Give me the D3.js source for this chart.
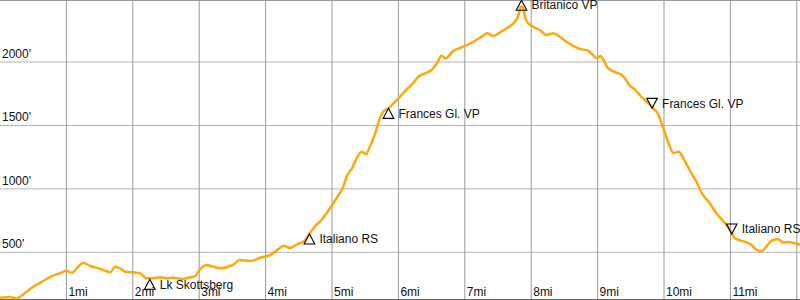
<!DOCTYPE html>
<html>
<head>
<meta charset="utf-8">
<script src="https://cdn.jsdelivr.net/npm/d3@7"></script>
<style>
  html, body { margin: 0; padding: 0; background: #fff; }
  svg { display: block; font-family: "Liberation Sans", Arial, sans-serif; }
</style>
</head>
<body>
<svg id="chart" width="800" height="300"></svg>
<script>
// Track: distance (miles) and elevation (feet)
const distances = [0, 0.15, 0.25, 0.30, 0.50, 0.65, 0.78, 0.90, 1.00, 1.08, 1.18, 1.25, 1.36, 1.48, 1.56, 1.66, 1.73, 1.81, 1.88, 2.01,
  2.11, 2.21, 2.31, 2.41, 2.51, 2.61, 2.74, 2.84, 2.94, 3.01, 3.11, 3.21, 3.31, 3.51, 3.61, 3.77, 3.92, 4.09, 4.22, 4.27,
  4.37, 4.47, 4.57, 4.67, 4.74, 4.84, 4.97, 5.07, 5.17, 5.22, 5.30, 5.37, 5.45, 5.51, 5.57, 5.65, 5.72, 5.77, 5.85, 5.95,
  6.02, 6.13, 6.22, 6.30, 6.40, 6.50, 6.58, 6.65, 6.71, 6.83, 6.98, 7.13, 7.25, 7.34, 7.43, 7.53, 7.63, 7.73, 7.81, 7.84,
  7.87, 7.92, 8.01, 8.13, 8.23, 8.33, 8.43, 8.53, 8.63, 8.76, 8.86, 8.93, 8.99, 9.04, 9.09, 9.14, 9.24, 9.34, 9.41, 9.49,
  9.56, 9.64, 9.74, 9.84, 9.91, 9.99, 10.06, 10.14, 10.22, 10.29, 10.39, 10.49, 10.57, 10.69, 10.79, 10.92, 10.99, 11.07, 11.19, 11.30,
  11.40, 11.47, 11.55, 11.62, 11.72, 11.80, 11.87, 11.97, 12.05];
const elevations = [142, 148, 136, 150, 229, 274, 313, 334, 355, 339, 387, 418, 392, 374, 360, 342, 387, 374, 347, 342,
  334, 295, 295, 303, 295, 300, 290, 300, 313, 364, 400, 387, 374, 400, 439, 431, 457, 484, 536, 552,
  534, 563, 584, 655, 702, 755, 847, 928, 1017, 1096, 1162, 1241, 1293, 1275, 1332, 1438, 1556, 1608, 1635, 1687,
  1724, 1787, 1832, 1884, 1911, 1937, 1990, 2050, 2029, 2089, 2121, 2160, 2199, 2226, 2205, 2234, 2266, 2305, 2370, 2434,
  2434, 2331, 2284, 2252, 2213, 2226, 2199, 2160, 2128, 2100, 2089, 2055, 2029, 2047, 2016, 1963, 1924, 1905, 1872, 1811,
  1785, 1736, 1687, 1635, 1590, 1477, 1372, 1283, 1293, 1241, 1145, 1054, 967, 886, 807, 729, 680, 610, 588, 565,
  518, 510, 550, 591, 602, 576, 581, 571, 558];

// Waypoints
const wpNames = ["Lk Skottsberg", "Italiano RS", "Frances Gl. VP", "Britanico VP", "Frances Gl. VP", "Italiano RS"];
const wpMiles = [2.256, 4.66, 5.85, 7.854, 9.82, 11.02];
const wpElev = [287, 644, 1635, 2487, 1635, 644];
const wpDir = ["up", "up", "up", "up", "down", "down"];

// Tick labels
const mileTicks = [1, 2, 3, 4, 5, 6, 7, 8, 9, 10, 11, 12];
const mileLabels = ["1mi", "2mi", "3mi", "4mi", "5mi", "6mi", "7mi", "8mi", "9mi", "10mi", "11mi", ""];
const feetTicks = [500, 1000, 1500, 2000];
const feetLabels = ["500'", "1000'", "1500'", "2000'"];

const W = 800, H = 300;
const svg = d3.select("#chart");
const x = d3.scaleLinear().domain([0, 12.048]).range([0, W]);
const y = d3.scaleLinear().domain([124, 2489]).range([H, 0]);

// horizontal grid
const gy = svg.append("g");
gy.selectAll("line").data(feetTicks).join("line")
  .attr("x1", 0).attr("x2", W)
  .attr("y1", d => y(d)).attr("y2", d => y(d))
  .attr("stroke", "#b4b4b4").attr("stroke-width", 1);
gy.selectAll("text").data(feetTicks).join("text")
  .attr("x", 2).attr("y", d => y(d) - 4)
  .attr("font-size", 12).attr("fill", "#111")
  .text((d, i) => feetLabels[i]);

// vertical grid
const gx = svg.append("g");
gx.selectAll("line").data(mileTicks).join("line")
  .attr("x1", d => x(d)).attr("x2", d => x(d))
  .attr("y1", 0).attr("y2", H)
  .attr("stroke", "#999").attr("stroke-width", 1);
gx.selectAll("text").data(mileTicks).join("text")
  .attr("x", d => x(d) + 2).attr("y", 295.5)
  .attr("font-size", 12).attr("fill", "#111")
  .text((d, i) => mileLabels[i]);

// frame lines
svg.append("line").attr("x1", 0).attr("x2", W).attr("y1", 0.5).attr("y2", 0.5)
  .attr("stroke", "#999");
svg.append("line").attr("x1", 0).attr("x2", W).attr("y1", 299.5).attr("y2", 299.5)
  .attr("stroke", "#666");

// profile line
const track = distances.map((d, i) => [d, elevations[i]]);
svg.append("path")
  .datum(track)
  .attr("fill", "none")
  .attr("stroke", "#ffa80a")
  .attr("stroke-width", 2.5)
  .attr("stroke-linejoin", "round")
  .attr("d", d3.line().x(d => x(d[0])).y(d => y(d[1])).curve(d3.curveMonotoneX));

// waypoints
const wps = wpNames.map((n, i) => ({ name: n, mi: wpMiles[i], ft: wpElev[i], dir: wpDir[i] }));
const gw = svg.append("g");
const tw = 5.3, th = 10;
gw.selectAll("path").data(wps).join("path")
  .attr("d", d => {
    const px = x(d.mi), py = y(d.ft);
    if (d.dir === "up") return `M${px},${py}L${px + tw},${py + th}L${px - tw},${py + th}Z`;
    return `M${px},${py}L${px + tw},${py - th}L${px - tw},${py - th}Z`;
  })
  .attr("fill", "none").attr("stroke", "#000").attr("stroke-width", 1.1);
gw.selectAll("text").data(wps).join("text")
  .attr("x", d => x(d.mi) + 10)
  .attr("y", d => y(d.ft) + (d.dir === "up" ? 5 : -5))
  .attr("dy", "0.35em")
  .attr("font-size", 12).attr("fill", "#111")
  .text(d => d.name);
</script>
</body>
</html>
